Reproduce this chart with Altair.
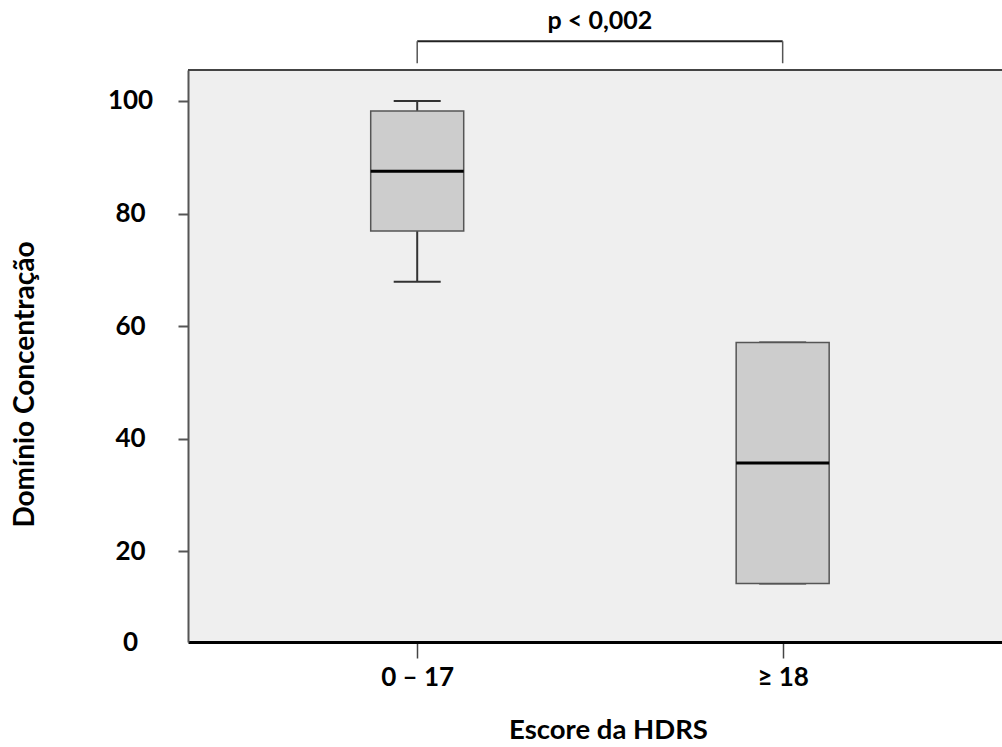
import altair as alt
import pandas as pd

# ---- data ----
groups = ["0 – 17", "≥ 18"]
group_pos = [0, 1]
whisker_low = [67.9, 14.3]
q1 = [76.9, 14.3]
median = [87.5, 35.7]
q3 = [98.2, 57.1]
whisker_high = [100.0, 57.1]

# significance bracket annotation
bracket_ends = [0, 1]
bracket_top = 110.6
bracket_foot = 106.7
p_text = "p < 0,002"
p_text_y = 114.2

y_ticks = [3.9, 20, 40, 60, 80, 100]

FONT = "Lato"

df = pd.DataFrame(dict(pos=group_pos, group=groups, lo=whisker_low, q1=q1,
                       med=median, q3=q3, hi=whisker_high))
br = pd.DataFrame(dict(pos=bracket_ends, top=[bracket_top] * 2, foot=[bracket_foot] * 2))
br_line = pd.DataFrame(dict(a=[bracket_ends[0]], b=[bracket_ends[1]], top=[bracket_top]))
ptxt = pd.DataFrame(dict(pos=[sum(bracket_ends) / 2], y=[p_text_y], t=[p_text]))

x_scale = alt.Scale(domain=[-0.6135, 1.5865], nice=False, zero=False)
y_scale = alt.Scale(domain=[3.9, 105.5], nice=False, zero=False)

label_expr = " : ".join(
    [f"datum.value == {p} ? '{g}'" for p, g in zip(group_pos[:-1], groups[:-1])]
    + [f"'{groups[-1]}'"]
)

x_axis = alt.Axis(
    values=group_pos, labelExpr=label_expr, title="Escore da HDRS",
    grid=False, domainColor="black", domainWidth=3, tickColor="#444",
    tickWidth=1.5, tickSize=16, labelFont=FONT, labelFontSize=26,
    labelFontWeight="bold", labelColor="black", labelPadding=6,
    titleFont=FONT, titleFontSize=27.5, titleFontWeight="bold", titleColor="black",
    titleX=420, titleY=88, titleBaseline="middle", titleAlign="center",
)
y_axis = alt.Axis(
    values=y_ticks, labelExpr="datum.value < 10 ? '0' : datum.label",
    title="Domínio Concentração", grid=False, domainColor="#555", domainWidth=2,
    tickColor="#555", tickWidth=2, tickSize=10,
    tickOpacity={"condition": {"test": "datum.value < 10", "value": 0}, "value": 1},
    labelFont=FONT, labelFontSize=26, labelFontWeight="bold", labelColor="black",
    labelAlign="center", labelBaseline="middle", labelPadding=48,
    titleFont=FONT, titleFontSize=28, titleFontWeight="bold", titleColor="black",
    titleAngle=-90, titleX=-163, titleY=314, titleAlign="center", titleBaseline="middle",
)

X = alt.X("pos:Q", scale=x_scale, axis=x_axis)
base = alt.Chart(df)

w_low = base.mark_rule(color="#333", strokeWidth=2).encode(
    x=X, y=alt.Y("lo:Q", scale=y_scale, axis=y_axis), y2="q1:Q")
w_high = base.mark_rule(color="#333", strokeWidth=2).encode(
    x=X, y=alt.Y("q3:Q", scale=y_scale, axis=y_axis), y2="hi:Q")
cap_low = base.mark_tick(orient="horizontal", size=47, thickness=2, color="#333",
                         opacity=1).encode(
    x=X, y=alt.Y("lo:Q", scale=y_scale, axis=y_axis))
cap_high = base.mark_tick(orient="horizontal", size=47, thickness=2, color="#333",
                          opacity=1).encode(
    x=X, y=alt.Y("hi:Q", scale=y_scale, axis=y_axis))
box = base.mark_bar(size=93, fill="#cdcdcd", stroke="#555", strokeWidth=1.5,
                    opacity=1).encode(
    x=X, y=alt.Y("q1:Q", scale=y_scale, axis=y_axis), y2="q3:Q")
med = base.mark_tick(orient="horizontal", size=93, thickness=3, color="black",
                     opacity=1).encode(
    x=X, y=alt.Y("med:Q", scale=y_scale, axis=y_axis))

br_h = alt.Chart(br_line).mark_rule(color="#222", strokeWidth=2).encode(
    x=alt.X("a:Q", scale=x_scale, axis=x_axis), x2="b:Q",
    y=alt.Y("top:Q", scale=y_scale, axis=y_axis))
br_v = alt.Chart(br).mark_rule(color="#555", strokeWidth=1.5).encode(
    x=X, y=alt.Y("top:Q", scale=y_scale, axis=y_axis), y2="foot:Q")
p_lbl = alt.Chart(ptxt).mark_text(font=FONT, fontSize=25, fontWeight="bold",
                                  color="black", baseline="middle").encode(
    x=X, y=alt.Y("y:Q", scale=y_scale, axis=y_axis), text="t:N")

top_frame = alt.Chart(df).mark_rule(color="#444", strokeWidth=2).encode(
    x=alt.value(0), x2=alt.value(814), y=alt.value(0))

chart = alt.layer(
    w_low, w_high, cap_low, cap_high, box, med, br_h, br_v, p_lbl, top_frame
).properties(
    width=814, height=572,
    autosize=alt.AutoSizeParams(type="none"),
    padding={"left": 188, "top": 70, "right": 0, "bottom": 105},
    background="white",
).configure_view(fill="#efefef", strokeWidth=0)

chart.save("out.html", embed_options={"renderer": "svg", "actions": False})
